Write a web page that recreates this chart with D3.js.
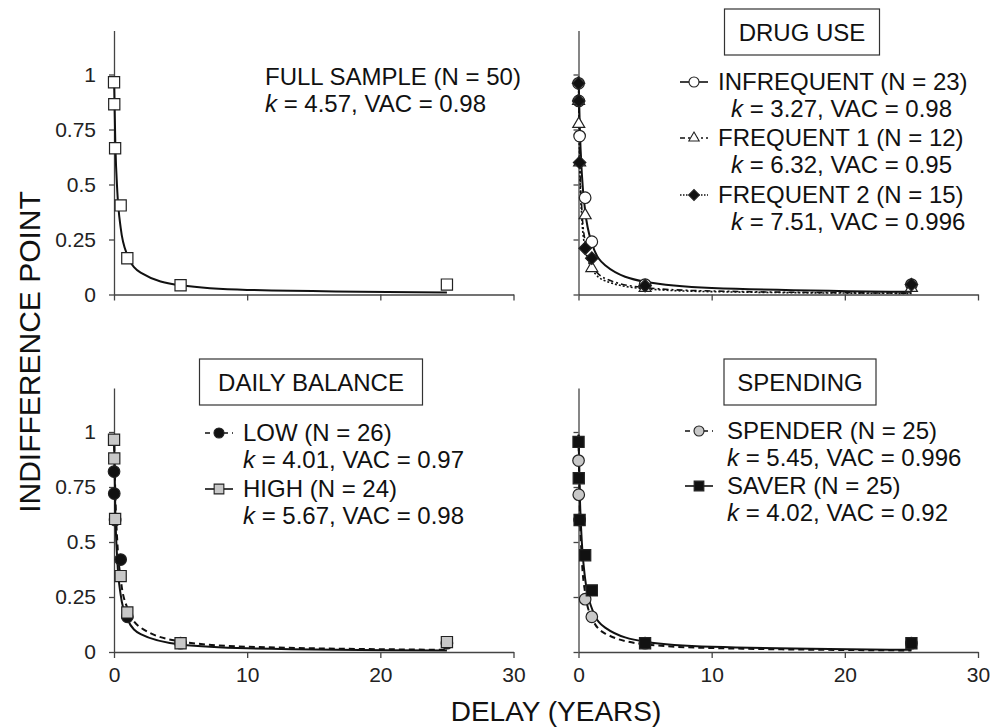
<!DOCTYPE html>
<html>
<head>
<meta charset="utf-8">
<script src="https://cdn.jsdelivr.net/npm/d3@7"></script>
<style>
    body { margin: 0; background: #fff; }
    svg { display: block; font-family: Arial, "Liberation Sans", sans-serif; }
</style>
</head>
<body>
<div id="chart"></div>
<script>

// Delays (years) at which indifference points were measured
const delays = [0.003, 0.019, 0.083, 0.5, 1, 5, 25];

// Delays used for the fitted hyperbola lines
const fitDelays = [0.003, 0.1, 0.25, 0.5, 1, 2, 5, 10, 25];

const fullSample = [0.965, 0.865, 0.665, 0.405, 0.165, 0.042, 0.045];
const infrequent = [0.96, 0.88, 0.72, 0.44, 0.24, 0.045, 0.045];
const frequent1 = [0.88, 0.775, 0.60, 0.36, 0.12, 0.03, 0.03];
const frequent2 = [0.96, 0.88, 0.60, 0.21, 0.165, 0.04, 0.045];
const lowBalance = [0.82, 0.72, 0.60, 0.42, 0.16, 0.04, 0.04];
const highBalance = [0.965, 0.88, 0.605, 0.345, 0.18, 0.04, 0.045];
const spender = [0.87, 0.715, 0.60, 0.24, 0.16, 0.04, 0.04];
const saver = [0.955, 0.79, 0.60, 0.44, 0.28, 0.04, 0.04];

// Fitted curves at fitDelays
const fullSampleFit = [0.988, 0.686, 0.467, 0.304, 0.180, 0.099, 0.042, 0.021, 0.009];
const infrequentFit = [0.991, 0.754, 0.550, 0.380, 0.234, 0.133, 0.058, 0.030, 0.012];
const frequent1Fit = [0.983, 0.613, 0.388, 0.240, 0.137, 0.073, 0.031, 0.016, 0.006];
const frequent2Fit = [0.980, 0.571, 0.348, 0.210, 0.118, 0.062, 0.026, 0.013, 0.005];
const lowBalanceFit = [0.989, 0.714, 0.499, 0.333, 0.200, 0.111, 0.048, 0.024, 0.010];
const highBalanceFit = [0.985, 0.638, 0.414, 0.261, 0.150, 0.081, 0.034, 0.017, 0.007];
const spenderFit = [0.986, 0.647, 0.423, 0.268, 0.155, 0.084, 0.035, 0.018, 0.007];
const saverFit = [0.989, 0.713, 0.499, 0.332, 0.199, 0.111, 0.047, 0.024, 0.010];

// Legend texts
const panelTitles = ["DRUG USE", "DAILY BALANCE", "SPENDING"];
const groupLabels = ["FULL SAMPLE  (N = 50)",
    "INFREQUENT (N = 23)", "FREQUENT 1 (N = 12)", "FREQUENT 2 (N = 15)",
    "LOW (N = 26)", "HIGH (N = 24)",
    "SPENDER (N = 25)", "SAVER (N = 25)"];
const kValues = ["4.57", "3.27", "6.32", "7.51", "4.01", "5.67", "5.45", "4.02"];
const vacValues = ["0.98", "0.98", "0.95", "0.996", "0.97", "0.98", "0.996", "0.92"];

const xTicks = [0, 10, 20, 30];
const yTicks = [0, 0.25, 0.5, 0.75, 1];

const width = 1000;
const height = 727;

const svg = d3.select("#chart")
    .append("svg")
    .attr("width", width)
    .attr("height", height);

svg.append("rect")
    .attr("width", width)
    .attr("height", height)
    .attr("fill", "#fff");

// Scales for the four panels
const xLeft = d3.scaleLinear().domain([0, 30]).range([114, 513.5]);
const xRight = d3.scaleLinear().domain([0, 30]).range([578.5, 978]);
const yTop = d3.scaleLinear().domain([0, 1.2]).range([294.5, 30.5]);
const yBottom = d3.scaleLinear().domain([0, 1.2]).range([652, 388]);

// Marker and line styles
const styles = {
    openSquare: { shape: "square", fill: "#fff", dash: null, width: 2 },
    openCircle: { shape: "circle", fill: "#fff", dash: null, width: 2 },
    openTriangle: { shape: "triangle", fill: "#fff", dash: "6,3,2,3", width: 1.6 },
    blackDiamond: { shape: "diamond", fill: "#111", dash: "2,2", width: 1.6 },
    blackCircle: { shape: "circle", fill: "#111", dash: "6,4", width: 2 },
    greySquare: { shape: "square", fill: "#c8c8c8", dash: null, width: 2 },
    greyCircle: { shape: "circle", fill: "#c8c8c8", dash: "6,4", width: 2 },
    blackSquare: { shape: "square", fill: "#111", dash: null, width: 2 }
};

function symbolPath(shape, scale) {
    const s = scale || 1;
    if (shape === "square") {
        return d3.symbol().type(d3.symbolSquare).size(125 * s)();
    }
    if (shape === "circle") {
        return d3.symbol().type(d3.symbolCircle).size(105 * s)();
    }
    if (shape === "triangle") {
        return d3.symbol().type(d3.symbolTriangle).size(62 * s)();
    }
    return d3.symbol().type(d3.symbolSquare).size(78 * s)();
}

function drawAxes(x, y, showXLabels, showYLabels) {

    const xAxis = svg.append("g")
        .attr("transform", "translate(0," + y(0) + ")")
        .call(d3.axisBottom(x)
            .tickValues(xTicks)
            .tickSize(6)
            .tickSizeOuter(0)
            .tickPadding(9)
            .tickFormat(showXLabels ? d3.format("d") : ""));

    const yAxis = svg.append("g")
        .attr("transform", "translate(" + x(0) + ",0)")
        .call(d3.axisLeft(y)
            .tickValues(yTicks)
            .tickSize(5)
            .tickSizeOuter(0)
            .tickPadding(13)
            .tickFormat(showYLabels ? function(d) { return d; } : ""));

    [xAxis, yAxis].forEach(function(g) {
        g.select(".domain").attr("stroke", "#444").attr("stroke-width", 1.3);
        g.selectAll(".tick line").attr("stroke", "#444").attr("stroke-width", 1.3);
        g.selectAll(".tick text")
            .attr("fill", "#222")
            .style("font-size", "21px")
            .style("font-family", "Arial, 'Liberation Sans', sans-serif");
    });
}

function drawCurve(x, y, fit, style) {

    const line = d3.line()
        .x(function(d, i) { return x(fitDelays[i]); })
        .y(function(d) { return y(d); })
        .curve(d3.curveMonotoneX);

    svg.append("path")
        .datum(fit)
        .attr("d", line)
        .attr("fill", "none")
        .attr("stroke", "#111")
        .attr("stroke-width", style.width)
        .attr("stroke-dasharray", style.dash);
}

function drawPoints(x, y, values, style) {

    svg.append("g")
        .selectAll("path")
        .data(values)
        .enter()
        .append("path")
        .attr("d", symbolPath(style.shape))
        .attr("transform", function(d, i) {
            const t = "translate(" + x(delays[i]) + "," + y(d) + ")";
            return style.shape === "diamond" ? t + " rotate(45)" : t;
        })
        .attr("fill", style.fill)
        .attr("stroke", "#222")
        .attr("stroke-width", 1.2);
}

function drawTitleBox(cx, top, w, h, label) {

    svg.append("rect")
        .attr("x", cx - w / 2)
        .attr("y", top)
        .attr("width", w)
        .attr("height", h)
        .attr("fill", "#fff")
        .attr("stroke", "#333")
        .attr("stroke-width", 1.2);

    svg.append("text")
        .attr("x", cx)
        .attr("y", top + h / 2 + 8.5)
        .attr("text-anchor", "middle")
        .style("font-size", "24px")
        .attr("fill", "#111")
        .text(label);
}

function drawLegendText(xText, xK, baseline, idx) {

    svg.append("text")
        .attr("x", xText)
        .attr("y", baseline)
        .style("font-size", "24px")
        .attr("fill", "#111")
        .text(groupLabels[idx]);

    const t = svg.append("text")
        .attr("x", xK)
        .attr("y", baseline + 27)
        .style("font-size", "24px")
        .attr("fill", "#111");

    t.append("tspan").style("font-style", "italic").text("k");
    t.append("tspan").text(" = " + kValues[idx] + ", VAC  = " + vacValues[idx]);
}

function drawLegendMarker(cx, cy, style) {

    let dash = null;
    if (style.dash === "2,2") dash = "1.5,1.5";
    else if (style.dash === "6,4") dash = "5,4";
    else if (style.dash) dash = "5,3,2,3";

    svg.append("line")
        .attr("x1", cx - 14)
        .attr("x2", cx + 14)
        .attr("y1", cy)
        .attr("y2", cy)
        .attr("stroke", "#111")
        .attr("stroke-width", style.width === 2 ? 1.6 : 1.3)
        .attr("stroke-dasharray", dash);

    svg.append("path")
        .attr("d", symbolPath(style.shape, 0.75))
        .attr("transform", "translate(" + cx + "," + cy + ")" + (style.shape === "diamond" ? " rotate(45)" : ""))
        .attr("fill", style.fill)
        .attr("stroke", "#222")
        .attr("stroke-width", 1.1);
}

// Panel 1: full sample
drawAxes(xLeft, yTop, false, true);
drawCurve(xLeft, yTop, fullSampleFit, styles.openSquare);
drawPoints(xLeft, yTop, fullSample, styles.openSquare);
drawLegendText(265, 265, 85, 0);

// Panel 2: drug use
drawAxes(xRight, yTop, false, false);
drawCurve(xRight, yTop, infrequentFit, styles.openCircle);
drawCurve(xRight, yTop, frequent1Fit, styles.openTriangle);
drawCurve(xRight, yTop, frequent2Fit, styles.blackDiamond);
drawPoints(xRight, yTop, infrequent, styles.openCircle);
drawPoints(xRight, yTop, frequent1, styles.openTriangle);
drawPoints(xRight, yTop, frequent2, styles.blackDiamond);
drawTitleBox(802, 9, 155, 46, panelTitles[0]);
drawLegendText(718, 731, 90, 1);
drawLegendText(718, 731, 146, 2);
drawLegendText(718, 731, 203, 3);
drawLegendMarker(694, 82, styles.openCircle);
drawLegendMarker(694, 138, styles.openTriangle);
drawLegendMarker(694, 195, styles.blackDiamond);

// Panel 3: daily balance
drawAxes(xLeft, yBottom, true, true);
drawCurve(xLeft, yBottom, lowBalanceFit, styles.blackCircle);
drawCurve(xLeft, yBottom, highBalanceFit, styles.greySquare);
drawPoints(xLeft, yBottom, lowBalance, styles.blackCircle);
drawPoints(xLeft, yBottom, highBalance, styles.greySquare);
drawTitleBox(311, 359, 223, 46, panelTitles[1]);
drawLegendText(243, 243, 441, 4);
drawLegendText(243, 243, 497, 5);
drawLegendMarker(219, 433, styles.blackCircle);
drawLegendMarker(219, 489, styles.greySquare);

// Panel 4: spending
drawAxes(xRight, yBottom, true, false);
drawCurve(xRight, yBottom, spenderFit, styles.greyCircle);
drawCurve(xRight, yBottom, saverFit, styles.blackSquare);
drawPoints(xRight, yBottom, spender, styles.greyCircle);
drawPoints(xRight, yBottom, saver, styles.blackSquare);
drawTitleBox(800, 359, 152, 46, panelTitles[2]);
drawLegendText(727, 727, 439, 6);
drawLegendText(727, 727, 494, 7);
drawLegendMarker(699, 431, styles.greyCircle);
drawLegendMarker(699, 486, styles.blackSquare);

// Axis titles
svg.append("text")
    .attr("transform", "translate(40,352) rotate(-90)")
    .attr("text-anchor", "middle")
    .style("font-size", "30px")
    .attr("fill", "#111")
    .text("INDIFFERENCE POINT");

svg.append("text")
    .attr("x", 556)
    .attr("y", 721)
    .attr("text-anchor", "middle")
    .style("font-size", "28px")
    .attr("fill", "#111")
    .text("DELAY (YEARS)");

</script>
</body>
</html>
